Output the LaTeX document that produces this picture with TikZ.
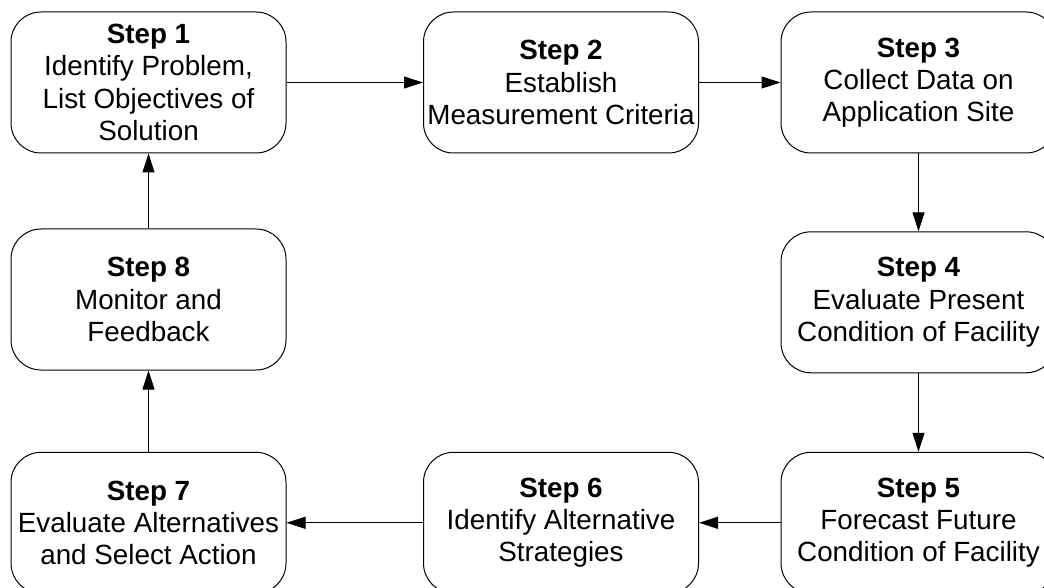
\documentclass[tikz,border=0pt]{standalone}
\usepackage{fontspec}
\setmainfont{Liberation Sans}
\usetikzlibrary{arrows.meta}
\tikzset{
  stepbox/.style={draw=black, line width=1pt, rounded corners=30pt,
    minimum width=275pt, minimum height=141pt, align=center,
    inner sep=0pt, font=\fontsize{27.8}{32.2}\selectfont},
  flow/.style={draw=black, line width=1pt, -{Triangle[length=19pt,width=12pt]}}
}
\begin{document}
\begin{tikzpicture}[x=1pt,y=-1pt]
\useasboundingbox (0,0) rectangle (1044,588);
\clip (0,0) rectangle (1044,588);
\fill[white] (0,0) rectangle (1044,588);
\node[stepbox] (s1) at (148.5,82.5) {\textbf{Step 1}\\Identify Problem,\\List Objectives of\\Solution};
\node[stepbox] (s2) at (561,82.5) {\textbf{Step 2}\\Establish\\Measurement Criteria};
\node[stepbox] (s3) at (918.5,82.5) {\textbf{Step 3}\\Collect Data on\\Application Site};
\node[stepbox] (s4) at (918.5,302.3) {\textbf{Step 4}\\Evaluate Present\\Condition of Facility};
\node[stepbox] (s5) at (918.5,522.8) {\textbf{Step 5}\\Forecast Future\\Condition of Facility};
\node[stepbox] (s6) at (561,522.8) {\textbf{Step 6}\\Identify Alternative\\Strategies};
\node[stepbox] (s7) at (148.5,522.8) {\textbf{Step 7}\\Evaluate Alternatives\\and Select Action};
\node[stepbox] (s8) at (148.5,299.5) {\textbf{Step 8}\\Monitor and\\Feedback};
\draw[flow] (s1) -- (s2);
\draw[flow] (s2) -- (s3);
\draw[flow] (s3) -- (s4);
\draw[flow] (s4) -- (s5);
\draw[flow] (s5) -- (s6);
\draw[flow] (s6) -- (s7);
\draw[flow] (s7) -- (s8);
\draw[flow] (s8) -- (s1);
\end{tikzpicture}
\end{document}
